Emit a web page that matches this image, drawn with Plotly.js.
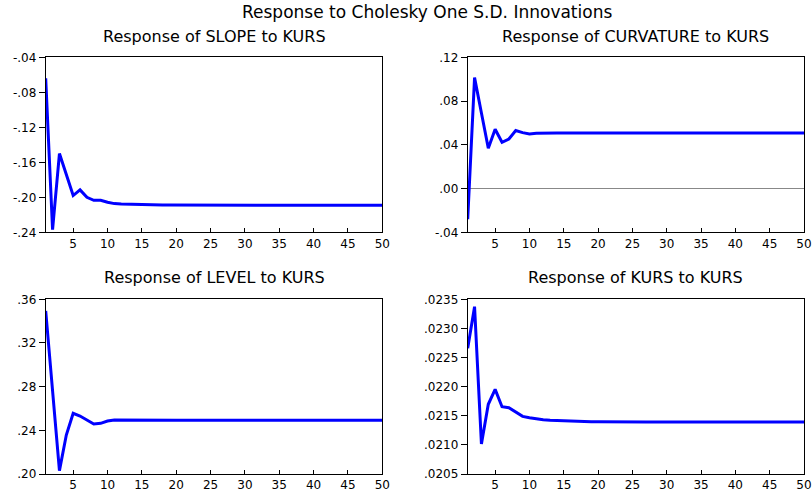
<!DOCTYPE html>
<html>
<head>
<meta charset="utf-8">
<script src="https://cdn.plot.ly/plotly-3.0.1.min.js"></script>
<style>html,body{margin:0;padding:0;background:#fff;}#chart{width:812px;height:491px;}</style>
</head>
<body>
<div id="chart"></div>
<script>
// Horizon (periods 1..50)
const periods = Array.from({length: 50}, (_, i) => i + 1);

// Responses (periods 1..20; afterwards the responses are flat)
const slopeHead = [-0.064, -0.237, -0.150, -0.174, -0.198, -0.1915, -0.200, -0.2034, -0.2034, -0.2057,
                   -0.2072, -0.2077, -0.2080, -0.2083, -0.2085, -0.2086, -0.2087, -0.2088, -0.2089, -0.2089];
const slopeTail = -0.2090;
const curvHead = [-0.028, 0.1014, 0.069, 0.0368, 0.0542, 0.0423, 0.0453, 0.053, 0.0511, 0.0499,
                  0.0505, 0.0508, 0.0508, 0.0508, 0.0508, 0.0508, 0.0508, 0.0508, 0.0508, 0.0508];
const curvTail = 0.0508;
const levelHead = [0.3493, 0.277, 0.2031, 0.2357, 0.2556, 0.2531, 0.2495, 0.2458, 0.2464, 0.2485,
                   0.2495, 0.2494, 0.2493, 0.2492, 0.2492, 0.2492, 0.2492, 0.2492, 0.2492, 0.2492];
const levelTail = 0.2492;
const kursHead = [0.022658, 0.023374, 0.021015, 0.021697, 0.021954, 0.021656, 0.021639, 0.02157, 0.02149, 0.021467,
                  0.021445, 0.021433, 0.021422, 0.021416, 0.02141, 0.021405, 0.021402, 0.0214, 0.021398, 0.021396];
const kursTail = 0.021394;

function fullSeries(head, tail) {
  const out = head.slice();
  while (out.length < periods.length) out.push(tail);
  return out;
}
const slope = fullSeries(slopeHead, slopeTail);
const curvature = fullSeries(curvHead, curvTail);
const level = fullSeries(levelHead, levelTail);
const kurs = fullSeries(kursHead, kursTail);

// Tick labels
const xTicks = [5, 10, 15, 20, 25, 30, 35, 40, 45, 50];
const slopeTickVals = [-0.24, -0.20, -0.16, -0.12, -0.08, -0.04];
const slopeTickText = ['-.24', '-.20', '-.16', '-.12', '-.08', '-.04'];
const curvTickVals = [-0.04, 0.00, 0.04, 0.08, 0.12];
const curvTickText = ['-.04', '.00', '.04', '.08', '.12'];
const levelTickVals = [0.20, 0.24, 0.28, 0.32, 0.36];
const levelTickText = ['.20', '.24', '.28', '.32', '.36'];
const kursTickVals = [0.0205, 0.0210, 0.0215, 0.0220, 0.0225, 0.0230, 0.0235];
const kursTickText = ['.0205', '.0210', '.0215', '.0220', '.0225', '.0230', '.0235'];

const titles = ['Response of SLOPE to KURS', 'Response of CURVATURE to KURS',
                'Response of LEVEL to KURS', 'Response of KURS to KURS'];
const mainTitle = 'Response to Cholesky One S.D. Innovations';

const FONT = 'DejaVu Sans, Arial, sans-serif';
const W = 812, H = 491;
const colL = [45.7 / W, 382.3 / W];
const colR = [467.7 / W, 804 / W];
const rowT = [1 - 232.3 / H, 1 - 57.3 / H];
const rowB = [1 - 474 / H, 1 - 299.3 / H];

const lineStyle = {color: '#0000FF', width: 3};
const traces = [
  {x: periods, y: slope, xaxis: 'x', yaxis: 'y', mode: 'lines', line: lineStyle},
  {x: periods, y: curvature, xaxis: 'x2', yaxis: 'y2', mode: 'lines', line: lineStyle},
  {x: periods, y: level, xaxis: 'x3', yaxis: 'y3', mode: 'lines', line: lineStyle},
  {x: periods, y: kurs, xaxis: 'x4', yaxis: 'y4', mode: 'lines', line: lineStyle}
];

function xax(domain, anchor) {
  return {domain: domain, anchor: anchor, range: [1, 50], tickvals: xTicks, ticktext: xTicks.map(String),
    ticks: 'inside', ticklen: 4, tickcolor: '#000', showline: true, linecolor: '#000', linewidth: 1,
    mirror: true, showgrid: false, zeroline: false, tickfont: {family: FONT, size: 12, color: '#000'}};
}
function yax(domain, anchor, range, vals, text, zero) {
  return {domain: domain, anchor: anchor, range: range, tickvals: vals, ticktext: text,
    ticks: 'outside', ticklen: 6, tickcolor: '#000', showline: true, linecolor: '#000', linewidth: 1,
    mirror: true, showgrid: false, zeroline: !!zero, zerolinecolor: '#888', zerolinewidth: 1,
    tickfont: {family: FONT, size: 12, color: '#000'}};
}

const SUB = 16;
const layout = {
  width: W, height: H,
  margin: {l: 0, r: 0, t: 0, b: 0},
  paper_bgcolor: '#fff', plot_bgcolor: '#fff',
  showlegend: false,
  xaxis: xax(colL, 'y'), yaxis: yax(rowT, 'x', [-0.24, -0.04], slopeTickVals, slopeTickText),
  xaxis2: xax(colR, 'y2'), yaxis2: yax(rowT, 'x2', [-0.04, 0.12], curvTickVals, curvTickText, true),
  xaxis3: xax(colL, 'y3'), yaxis3: yax(rowB, 'x3', [0.20, 0.36], levelTickVals, levelTickText),
  xaxis4: xax(colR, 'y4'), yaxis4: yax(rowB, 'x4', [0.0205, 0.0235], kursTickVals, kursTickText),
  annotations: [
    {text: mainTitle, xref: 'paper', yref: 'paper', x: 427 / W, y: 1 - 12 / H, showarrow: false,
     xanchor: 'center', yanchor: 'middle', font: {family: FONT, size: 17, color: '#000'}},
    {text: titles[0], xref: 'paper', yref: 'paper', x: (colL[0] + colL[1]) / 2, y: 1 - 37 / H, showarrow: false,
     xanchor: 'center', yanchor: 'middle', font: {family: FONT, size: SUB, color: '#000'}},
    {text: titles[1], xref: 'paper', yref: 'paper', x: (colR[0] + colR[1]) / 2, y: 1 - 37 / H, showarrow: false,
     xanchor: 'center', yanchor: 'middle', font: {family: FONT, size: SUB, color: '#000'}},
    {text: titles[2], xref: 'paper', yref: 'paper', x: (colL[0] + colL[1]) / 2, y: 1 - 277 / H, showarrow: false,
     xanchor: 'center', yanchor: 'middle', font: {family: FONT, size: SUB, color: '#000'}},
    {text: titles[3], xref: 'paper', yref: 'paper', x: (colR[0] + colR[1]) / 2, y: 1 - 277 / H, showarrow: false,
     xanchor: 'center', yanchor: 'middle', font: {family: FONT, size: SUB, color: '#000'}}
  ]
};

Plotly.newPlot('chart', traces, layout, {displayModeBar: false, staticPlot: true});
</script>
</body>
</html>
